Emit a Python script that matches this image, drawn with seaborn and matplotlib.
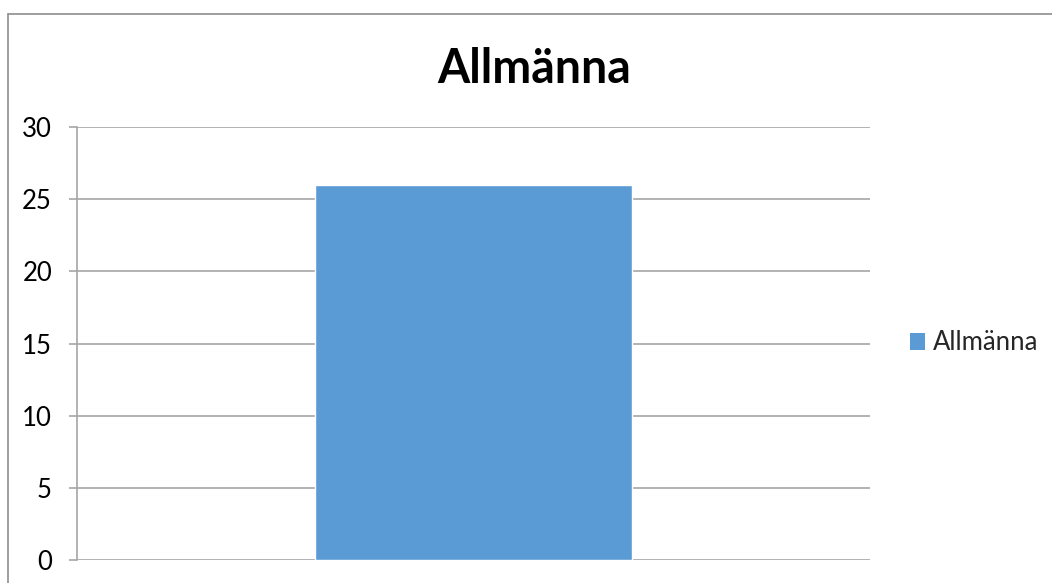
import matplotlib
matplotlib.use("Agg")
import matplotlib.pyplot as plt
from matplotlib.patches import Patch
from matplotlib.lines import Line2D
import pandas as pd
import seaborn as sns

# data
kategorier = ['Allmänna']
varden = [26]
serie = 'Allmänna'
titel = 'Allmänna'
y_ticks = [0, 5, 10, 15, 20, 25, 30]

farg = '#5B9BD5'
grid_farg = '#A6A6A6'

sns.set_theme(style='white')
plt.rcParams['font.family'] = ['Lato', 'DejaVu Sans']

W, H = 1052, 583
fig = plt.figure(figsize=(W / 100, H / 100), dpi=100)

# axes i pixelkoordinater
x0, x1, ytop, ybot = 77, 870, 127, 560
ax = fig.add_axes([x0 / W, 1 - ybot / H, (x1 - x0) / W, (ybot - ytop) / H])

df = pd.DataFrame({'kategori': kategorier, 'varde': varden})
sns.barplot(data=df, x='kategori', y='varde', color=farg, width=0.4,
            saturation=1, ax=ax)

ax.set_ylim(0, 30)
ax.set_yticks(y_ticks)
ax.set_xticks([])
ax.set_xlabel('')
ax.set_ylabel('')
ax.yaxis.grid(True, color=grid_farg, linewidth=1.2)
ax.set_axisbelow(True)
for s in ['top', 'right', 'bottom']:
    ax.spines[s].set_visible(False)
ax.spines['left'].set_color(grid_farg)
ax.spines['left'].set_linewidth(1.2)
ax.tick_params(axis='y', length=6, width=1.2, color=grid_farg, pad=12,
               labelsize=18.5, labelcolor='#000000', left=True)

# titel
fig.text(534 / W, 1 - 83 / H, titel, ha='center', va='baseline',
         fontsize=33.5, fontweight='bold', color='#000000')

# legend
handles = [Patch(facecolor=farg, edgecolor='none', label=serie)]
fig.legend(handles=handles, loc='center left',
           bbox_to_anchor=(910 / W, 1 - 343 / H), frameon=False,
           fontsize=18.5, handlelength=0.6, handleheight=0.6,
           handletextpad=0.3, borderpad=0, borderaxespad=0)

# ram runt diagrammet
fig.add_artist(Line2D([8 / W, 8 / W], [0, 1 - 14 / H], color='#8E8E8E', lw=1.2,
                      transform=fig.transFigure))
fig.add_artist(Line2D([8 / W, 1], [1 - 14 / H, 1 - 14 / H], color='#8E8E8E', lw=1.2,
                      transform=fig.transFigure))

fig.savefig('out.png', dpi=100)
